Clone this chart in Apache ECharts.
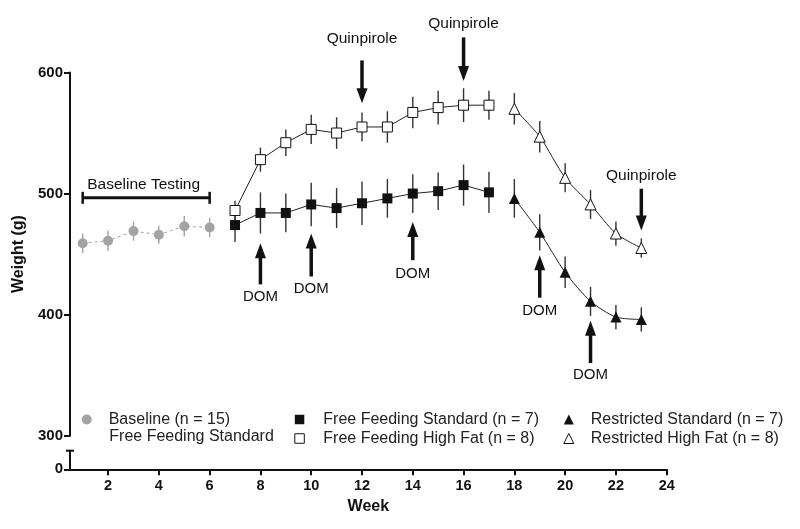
<!DOCTYPE html>
<html><head><meta charset="utf-8">
<script src="https://cdn.jsdelivr.net/npm/echarts/dist/echarts.min.js"></script>
<style>html,body{margin:0;padding:0;background:#fff}#c{width:800px;height:529px}</style>
</head><body><div id="c"></div>
<script>
// ---- data ----
const weekTicks = [2, 4, 6, 8, 10, 12, 14, 16, 18, 20, 22, 24];
const yTicks = [300, 400, 500, 600];

const baselineWeeks = [1, 2, 3, 4, 5, 6];
const baselineMean = [459, 461, 469, 466, 473, 472];
const baselineErr = [8, 8.5, 8, 7.5, 8.5, 8];

const freeWeeks = [7, 8, 9, 10, 11, 12, 13, 14, 15, 16, 17];
const freeStdMean = [474, 484, 484, 491, 488, 492, 496, 500, 502, 507, 501];
const freeStdErr = [14, 17, 16, 18, 16.5, 18, 16, 16, 15.5, 17, 17];
const freeHFMean = [486, 528, 542, 553, 550, 555, 555, 567, 571, 573, 573];
const freeHFErr = [8, 10, 11, 12, 13, 12, 13, 13, 14, 14, 12];

const restrWeeks = [18, 19, 20, 21, 22, 23];
const restrStdMean = [496, 468, 435, 411, 398, 396];
const restrStdErr = [16, 15, 13, 12, 10, 10];
const restrHFMean = [570, 547, 513, 491, 467, 455];
const restrHFErr = [13, 13, 12, 12, 10, 8];

// annotations (data coordinates)
const domWeeks = [8, 10, 14, 19, 21];
const domTip = [459, 467, 476.5, 449, 395];
const domTail = [425, 431.5, 445, 414, 360];
const domLabel = [415, 421.5, 434, 403.5, 350];
const quinWeeks = [12, 16, 23];
const quinTail = [610, 629, 504];
const quinTip = [574.5, 593, 469.5];
const quinLabel = [627.5, 640, 515];
const bracketWeeks = [1, 6];
const bracketValue = 496.5;
const bracketLabelPos = [3.4, 507.5];

const names = {
  base: 'Baseline (n = 15)',
  fs: 'Free Feeding Standard (n = 7)',
  fh: 'Free Feeding High Fat (n = 8)',
  rs: 'Restricted Standard (n = 7)',
  rh: 'Restricted High Fat (n = 8)'
};

const FONT = '"Liberation Sans", Arial, sans-serif';
const INK = '#111';
const GRAY = '#a3a3a3';

function pairs(xs, ys) { return xs.map((x, i) => [x, ys[i]]); }
function errData(xs, m, e) { return xs.map((x, i) => [x, m[i] - e[i], m[i] + e[i]]); }
function errSeries(xs, m, e, color) {
  return {
    type: 'custom', xAxisIndex: 0, yAxisIndex: 0, z: 1, silent: true,
    data: errData(xs, m, e),
    renderItem: function (params, api) {
      const x = api.value(0);
      const a = api.coord([x, api.value(1)]);
      const b = api.coord([x, api.value(2)]);
      return { type: 'line', shape: { x1: a[0], y1: a[1], x2: b[0], y2: b[1] },
        style: { stroke: color, lineWidth: 1.4 } };
    }
  };
}
function arrowShape(api, week, from, to, label, labelY) {
  const p1 = api.coord([week, from]);
  const p2 = api.coord([week, to]);
  const dir = p2[1] > p1[1] ? 1 : -1;
  const headLen = 15, headW = 5.5;
  const base = p2[1] - dir * headLen;
  const lp = api.coord([week, labelY]);
  return { type: 'group', children: [
    { type: 'line', shape: { x1: p1[0], y1: p1[1], x2: p1[0], y2: base + dir * 1 },
      style: { stroke: INK, lineWidth: 3.5 } },
    { type: 'polygon', shape: { points: [[p2[0], p2[1]], [p2[0] - headW, base], [p2[0] + headW, base]] },
      style: { fill: INK } },
    { type: 'text', x: lp[0], y: lp[1],
      style: { text: label, fill: INK, font: (label === 'DOM' ? '15px ' : '15.5px ') + FONT,
        align: 'center', verticalAlign: 'middle' } }
  ] };
}

const option = {
  animation: false,
  backgroundColor: '#fff',
  textStyle: { fontFamily: FONT },
  grid: [
    { left: 70, right: 133.3, top: 72.5, bottom: 93.3 },
    { left: 70, right: 133.3, top: 450.7, bottom: 59.7 }
  ],
  xAxis: [
    { gridIndex: 0, type: 'value', min: 0.5, max: 24, show: false, splitLine: { show: false } },
    { gridIndex: 1, type: 'value', min: 0.5, max: 24,
      name: 'Week', nameLocation: 'middle', nameGap: 29,
      nameTextStyle: { fontFamily: FONT, fontWeight: 'bold', fontSize: 16, color: INK },
      axisLine: { lineStyle: { color: INK, width: 2 } },
      axisTick: { customValues: weekTicks, length: 6, lineStyle: { color: INK, width: 2 } },
      axisLabel: { customValues: weekTicks, fontFamily: FONT, fontWeight: 'bold', fontSize: 14.5, color: INK, margin: 9 },
      splitLine: { show: false } }
  ],
  yAxis: [
    { gridIndex: 0, type: 'value', min: 300, max: 600, interval: 100,
      name: 'Weight (g)', nameLocation: 'middle', nameGap: 39, nameRotate: 90,
      nameTextStyle: { fontFamily: FONT, fontWeight: 'bold', fontSize: 16, color: INK },
      axisLine: { show: true, lineStyle: { color: INK, width: 2 } },
      axisTick: { show: true, customValues: yTicks, length: 6, lineStyle: { color: INK, width: 2 } },
      axisLabel: { customValues: yTicks, fontFamily: FONT, fontWeight: 'bold', fontSize: 15, color: INK, margin: 7 },
      splitLine: { show: false } },
    { gridIndex: 1, type: 'value', min: 0, max: 1,
      axisLine: { show: true, lineStyle: { color: INK, width: 2 } },
      axisTick: { show: true, customValues: [0], length: 6, lineStyle: { color: INK, width: 2 } },
      axisLabel: { customValues: [0], fontFamily: FONT, fontWeight: 'bold', fontSize: 15, color: INK, margin: 7 },
      splitLine: { show: false } }
  ],
  legend: [
    { left: 81.7, top: 410.5, padding: 0, selectedMode: false, itemWidth: 10, itemHeight: 10,
      textStyle: { fontFamily: FONT, fontSize: 16, color: '#222', padding: [0, 0, 0, 12], lineHeight: 18 },
      data: [{ name: names.base, icon: 'circle', itemStyle: { color: GRAY, borderWidth: 0 } }] },
    { left: 294.3, top: 410.5, padding: 0, orient: 'vertical', itemGap: 1, selectedMode: false, itemWidth: 9.5, itemHeight: 9.5,
      textStyle: { fontFamily: FONT, fontSize: 16, color: '#222', padding: [0, 0, 0, 14], lineHeight: 18 },
      data: [
        { name: names.fs, icon: 'rect', itemStyle: { color: INK, borderWidth: 0 } },
        { name: names.fh, icon: 'rect', itemStyle: { color: '#fff', borderColor: INK, borderWidth: 1 } }
      ] },
    { left: 563.3, top: 410.5, padding: 0, orient: 'vertical', itemGap: 1, selectedMode: false, itemWidth: 10, itemHeight: 10,
      textStyle: { fontFamily: FONT, fontSize: 16, color: '#222', padding: [0, 0, 0, 12], lineHeight: 18 },
      data: [
        { name: names.rs, icon: 'triangle', itemStyle: { color: INK, borderWidth: 0 } },
        { name: names.rh, icon: 'triangle', itemStyle: { color: '#fff', borderColor: INK, borderWidth: 1 } }
      ] }
  ],
  graphic: [
    { type: 'text', left: 109.3, top: 429,
      style: { text: 'Free Feeding Standard', font: '16px ' + FONT, fill: '#222' } }
  ],
  series: [
    errSeries(baselineWeeks, baselineMean, baselineErr, GRAY),
    errSeries(freeWeeks, freeStdMean, freeStdErr, '#333'),
    errSeries(freeWeeks, freeHFMean, freeHFErr, '#333'),
    errSeries(restrWeeks, restrStdMean, restrStdErr, '#333'),
    errSeries(restrWeeks, restrHFMean, restrHFErr, '#333'),
    { name: names.base, type: 'line', data: pairs(baselineWeeks, baselineMean), z: 3,
      symbol: 'circle', symbolSize: 10, itemStyle: { color: GRAY },
      lineStyle: { color: GRAY, width: 1, type: [3, 3] } },
    { name: names.fs, type: 'line', data: pairs(freeWeeks, freeStdMean), z: 3,
      symbol: 'rect', symbolSize: 10, itemStyle: { color: INK },
      lineStyle: { color: '#222', width: 1 } },
    { name: names.fh, type: 'line', data: pairs(freeWeeks, freeHFMean), z: 3,
      symbol: 'rect', symbolSize: 10, itemStyle: { color: '#fff', borderColor: INK, borderWidth: 1 },
      lineStyle: { color: '#222', width: 1 } },
    { name: names.rs, type: 'line', data: pairs(restrWeeks, restrStdMean), z: 3, smooth: 0.25,
      symbol: 'triangle', symbolSize: 11, itemStyle: { color: INK },
      lineStyle: { color: '#222', width: 1 } },
    { name: names.rh, type: 'line', data: pairs(restrWeeks, restrHFMean), z: 3, smooth: 0.25,
      symbol: 'triangle', symbolSize: 11, itemStyle: { color: '#fff', borderColor: INK, borderWidth: 1 },
      lineStyle: { color: '#222', width: 1 } },
    { type: 'custom', z: 5, silent: true, clip: false,
      data: domWeeks.map((w, i) => [w, domTip[i]]),
      renderItem: function (params, api) {
        const i = params.dataIndex;
        return arrowShape(api, domWeeks[i], domTail[i], domTip[i], 'DOM', domLabel[i]);
      } },
    { type: 'custom', z: 5, silent: true, clip: false,
      data: quinWeeks.map((w, i) => [w, Math.min(quinTip[i], 600)]),
      renderItem: function (params, api) {
        const i = params.dataIndex;
        return arrowShape(api, quinWeeks[i], quinTail[i], quinTip[i], 'Quinpirole', quinLabel[i]);
      } },
    { type: 'custom', z: 5, silent: true, clip: false,
      data: [[bracketWeeks[0], bracketValue]],
      renderItem: function (params, api) {
        const a = api.coord([bracketWeeks[0], bracketValue]);
        const b = api.coord([bracketWeeks[1], bracketValue]);
        const t = api.coord(bracketLabelPos);
        return { type: 'group', children: [
          { type: 'line', shape: { x1: a[0], y1: a[1], x2: b[0], y2: b[1] }, style: { stroke: INK, lineWidth: 3 } },
          { type: 'line', shape: { x1: a[0], y1: a[1] - 6, x2: a[0], y2: a[1] + 6 }, style: { stroke: INK, lineWidth: 2.5 } },
          { type: 'line', shape: { x1: b[0], y1: b[1] - 6, x2: b[0], y2: b[1] + 6 }, style: { stroke: INK, lineWidth: 2.5 } },
          { type: 'text', x: t[0], y: t[1], style: { text: 'Baseline Testing', font: '15.5px ' + FONT, fill: INK,
            align: 'center', verticalAlign: 'middle' } }
        ] };
      } },
    { type: 'custom', xAxisIndex: 1, yAxisIndex: 1, z: 5, silent: true, clip: false,
      data: [[0.5, 1]],
      renderItem: function (params, api) {
        const p = api.coord([api.value(0), api.value(1)]);
        return { type: 'line', shape: { x1: p[0] - 4, y1: p[1], x2: p[0] + 4, y2: p[1] },
          style: { stroke: INK, lineWidth: 2 } };
      } }
  ]
};

const chart = echarts.init(document.getElementById('c'), null, { renderer: 'canvas' });
chart.setOption(option);
</script>
</body></html>
